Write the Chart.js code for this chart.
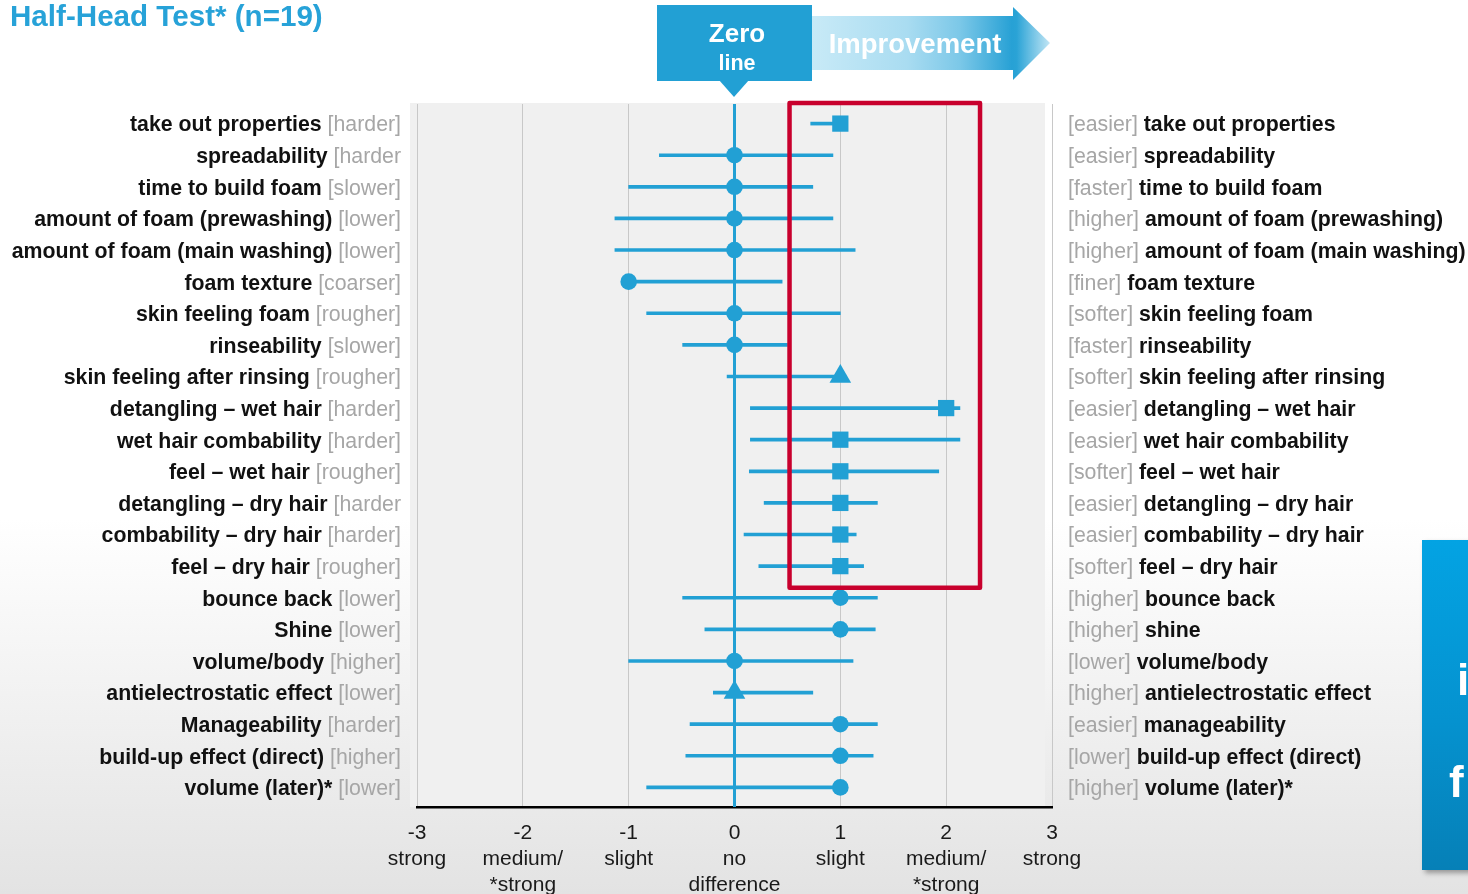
<!DOCTYPE html>
<html>
<head>
<meta charset="utf-8">
<script src="https://cdn.jsdelivr.net/npm/chart.js@4.4.1/dist/chart.umd.min.js"></script>
<style>
  html, body { margin: 0; padding: 0; }
  body {
    width: 1468px; height: 894px; overflow: hidden; position: relative;
    background: linear-gradient(to bottom, #ffffff 0%, #ffffff 58%, #e3e3e3 100%);
    font-family: 'Liberation Sans', Arial, sans-serif;
  }
  #chart { position: absolute; left: 0; top: 0; }
  .title { position: absolute; left: 10px; top: -1px; font-size: 29.6px; font-weight: bold; color: #27a2d8; white-space: nowrap; }
  .zero { position: absolute; left: 657px; top: 5px; width: 155px; height: 76px; background: #22a0d4; color: #fff; text-align: center; font-weight: bold; }
  .zero .z1 { position: absolute; left: 5px; right: 0; top: 13px; font-size: 26px; line-height: 30px; }
  .zero .z2 { position: absolute; left: 5px; right: 0; top: 45px; font-size: 21.5px; line-height: 26px; }
  .pointer { position: absolute; left: 719px; top: 80px; width: 0; height: 0; border-left: 15px solid transparent; border-right: 15px solid transparent; border-top: 17px solid #22a0d4; }
  .arrow { position: absolute; left: 812px; top: 6px; }
  .arrowtxt { position: absolute; left: 812px; top: 28px; width: 206px; text-align: center; color: #fff; font-weight: bold; font-size: 27.5px; line-height: 32px; white-space: nowrap; }
  .sidebox { position: absolute; left: 1422px; top: 540px; width: 300px; height: 330px; background: linear-gradient(to bottom, #03a3e3 0%, #0592cf 55%, #0680b7 100%); box-shadow: 3px 3px 5px rgba(0,0,0,0.35); color: #fff; font-weight: bold; font-size: 44px; line-height: 44px; }
  .sidebox span { position: absolute; }
</style>
</head>
<body>
<canvas id="chart" width="1468" height="894"></canvas>
<div class="title">Half-Head Test* (n=19)</div>
<div class="zero"><div class="z1">Zero</div><div class="z2">line</div></div>
<div class="pointer"></div>
<svg class="arrow" width="240" height="76" viewBox="0 0 240 76">
  <defs>
    <linearGradient id="ag" x1="0" y1="0" x2="238" y2="0" gradientUnits="userSpaceOnUse">
      <stop offset="0" stop-color="#c8eaf7"/>
      <stop offset="0.40" stop-color="#a9dcf1"/>
      <stop offset="0.62" stop-color="#7cc8e8"/>
      <stop offset="0.84" stop-color="#27a1d5"/>
      <stop offset="0.86" stop-color="#2aa3d6"/>
      <stop offset="1" stop-color="#c2e6f5"/>
    </linearGradient>
  </defs>
  <polygon points="0,10 201,10 201,1 238,37 201,74 201,64 0,64" fill="url(#ag)"/>
</svg>
<div class="arrowtxt">Improvement</div>
<div class="sidebox"><span style="left:35px; top:118px;">i</span><span style="left:27px; top:220px;">f</span></div>

<script>
// ---- data ----
const leftNames = [
  'take out properties', 'spreadability', 'time to build foam', 'amount of foam (prewashing)',
  'amount of foam (main washing)', 'foam texture', 'skin feeling foam', 'rinseability',
  'skin feeling after rinsing', 'detangling \u2013 wet hair', 'wet hair combability', 'feel \u2013 wet hair',
  'detangling \u2013 dry hair', 'combability \u2013 dry hair', 'feel \u2013 dry hair', 'bounce back',
  'Shine', 'volume/body', 'antielectrostatic effect', 'Manageability', 'build-up effect (direct)', 'volume (later)*'
];
const leftHints = [
  '[harder]', '[harder', '[slower]', '[lower]', '[lower]', '[coarser]', '[rougher]', '[slower]',
  '[rougher]', '[harder]', '[harder]', '[rougher]', '[harder', '[harder]', '[rougher]', '[lower]',
  '[lower]', '[higher]', '[lower]', '[harder]', '[higher]', '[lower]'
];
const rightNames = [
  'take out properties', 'spreadability', 'time to build foam', 'amount of foam (prewashing)',
  'amount of foam (main washing)', 'foam texture', 'skin feeling foam', 'rinseability',
  'skin feeling after rinsing', 'detangling \u2013 wet hair', 'wet hair combability', 'feel \u2013 wet hair',
  'detangling \u2013 dry hair', 'combability \u2013 dry hair', 'feel \u2013 dry hair', 'bounce back',
  'shine', 'volume/body', 'antielectrostatic effect', 'manageability', 'build-up effect (direct)', 'volume (later)*'
];
const rightHints = [
  '[easier]', '[easier]', '[faster]', '[higher]', '[higher]', '[finer]', '[softer]', '[faster]',
  '[softer]', '[easier]', '[easier]', '[softer]', '[easier]', '[easier]', '[softer]', '[higher]',
  '[higher]', '[lower]', '[higher]', '[easier]', '[lower]', '[higher]'
];
const medians = [1, 0, 0, 0, 0, -1, 0, 0, 1, 2, 1, 1, 1, 1, 1, 1, 1, 0, 0, 1, 1, 1];
const lows  = [0.72, -0.71, -1.00, -1.13, -1.13, -1.00, -0.83, -0.49, -0.07, 0.15, 0.15, 0.14, 0.28, 0.09, 0.23, -0.49, -0.28, -1.00, -0.20, -0.42, -0.46, -0.83];
const highs = [1.00, 0.93, 0.74, 0.93, 1.14, 0.45, 1.00, 0.50, 1.00, 2.13, 2.13, 1.93, 1.35, 1.15, 1.22, 1.35, 1.33, 1.12, 0.74, 1.35, 1.31, 1.00];
const shapes = ['rect', 'circle', 'circle', 'circle', 'circle', 'circle', 'circle', 'circle', 'triangle',
  'rect', 'rect', 'rect', 'rect', 'rect', 'rect', 'circle', 'circle', 'circle', 'triangle', 'circle', 'circle', 'circle'];
const tickValues = [-3, -2, -1, 0, 1, 2, 3];
const tickLabels = [['-3', 'strong'], ['-2', 'medium/', '*strong'], ['-1', 'slight'], ['0', 'no', 'difference'],
  ['1', 'slight'], ['2', 'medium/', '*strong'], ['3', 'strong']];
const zeroLine = [0, 0];
const highlightRange = [0.52, 2.32];   // x-range of the red box
const highlightLastRow = 14.68;        // red box bottom (row units)

// ---- styles ----
const BLUE = '#22a0d4';
const FONT = "'Liberation Sans', Arial, sans-serif";
const markerRadius = { rect: 11.5, circle: 8.3, triangle: 12.5 };

const rowsIdx = leftNames.map((_, i) => i);

const backgroundPlugin = {
  id: 'plotBg',
  beforeDraw(chart) {
    const { ctx, chartArea } = chart;
    ctx.save();
    ctx.fillStyle = '#f0f0f0';
    ctx.fillRect(chartArea.left - 7, chartArea.top - 1, chartArea.right - chartArea.left, chartArea.bottom - chartArea.top + 1);
    ctx.restore();
  }
};

const redBoxPlugin = {
  id: 'redBox',
  afterDatasetsDraw(chart) {
    const { ctx, chartArea, scales } = chart;
    const x1 = scales.x.getPixelForValue(highlightRange[0]);
    const x2 = scales.x.getPixelForValue(highlightRange[1]);
    const y1 = chartArea.top - 1;
    const y2 = scales.y.getPixelForValue(highlightLastRow);
    ctx.save();
    ctx.strokeStyle = '#c8002d';
    ctx.lineWidth = 4.5;
    ctx.lineJoin = 'round';
    ctx.strokeRect(x1, y1, x2 - x1, y2 - y1);
    ctx.restore();
  }
};

const rowLabelPlugin = {
  id: 'rowLabels',
  afterDraw(chart) {
    const { ctx, scales } = chart;
    const size = 21.3;
    const bold = `bold ${size}px ${FONT}`;
    const reg = `${size}px ${FONT}`;
    ctx.save();
    ctx.textBaseline = 'middle';
    ctx.font = reg;
    const space = ctx.measureText(' ').width;
    rowsIdx.forEach(i => {
      const y = scales.y.getPixelForValue(i) + 2;
      const lx = 401;
      ctx.textAlign = 'right';
      ctx.font = reg;
      ctx.fillStyle = '#a6a6a6';
      ctx.fillText(leftHints[i], lx, y);
      const hw = ctx.measureText(leftHints[i]).width;
      ctx.font = bold;
      ctx.fillStyle = '#111';
      ctx.fillText(leftNames[i], lx - hw - space, y);
      const rx = 1068;
      ctx.textAlign = 'left';
      ctx.font = reg;
      ctx.fillStyle = '#a6a6a6';
      ctx.fillText(rightHints[i], rx, y);
      const rw = ctx.measureText(rightHints[i]).width;
      ctx.font = bold;
      ctx.fillStyle = '#111';
      ctx.fillText(rightNames[i], rx + rw + space, y);
    });
    ctx.restore();
  }
};

new Chart(document.getElementById('chart'), {
  type: 'bar',
  data: {
    datasets: [
      {
        type: 'scatter',
        label: 'median',
        data: rowsIdx.map(i => ({ x: medians[i], y: i })),
        pointStyle: ctx => shapes[ctx.dataIndex],
        pointRadius: ctx => markerRadius[shapes[ctx.dataIndex]],
        pointHoverRadius: ctx => markerRadius[shapes[ctx.dataIndex]],
        backgroundColor: BLUE,
        borderColor: BLUE,
        borderWidth: 0,
        order: 0,
        clip: false
      },
      {
        type: 'bar',
        label: 'range',
        indexAxis: 'y',
        data: rowsIdx.map(i => ({ x: [lows[i], highs[i]], y: i })),
        backgroundColor: BLUE,
        borderWidth: 0,
        barThickness: 3,
        order: 1
      },
      {
        type: 'line',
        label: 'zero',
        data: [{ x: zeroLine[0], y: -0.62 }, { x: zeroLine[1], y: 21.62 }],
        borderColor: BLUE,
        borderWidth: 3,
        pointRadius: 0,
        order: 2,
        clip: false
      }
    ]
  },
  options: {
    responsive: false,
    animation: false,
    devicePixelRatio: 1,
    layout: { padding: { left: 417, right: 416, top: 104, bottom: 0 } },
    plugins: { legend: { display: false }, tooltip: { enabled: false } },
    scales: {
      x: {
        type: 'linear',
        offset: false,
        min: -3, max: 3,
        afterBuildTicks(scale) { scale.ticks = tickValues.map(v => ({ value: v })); },
        afterFit(scale) { scale.height = 87; },
        grid: { color: '#c8c8c8', lineWidth: 1, drawTicks: false, offset: false },
        border: { display: true, color: '#000', width: 2.5 },
        ticks: {
          padding: 13,
          color: '#1a1a1a',
          font: { family: FONT, size: 21, lineHeight: 1.25 },
          callback: (v) => tickLabels[tickValues.indexOf(v)],
          maxRotation: 0, autoSkip: false
        }
      },
      y: {
        type: 'linear',
        offset: false,
        reverse: true,
        min: -0.62, max: 21.62,
        display: false,
        grid: { offset: false }
      }
    }
  },
  plugins: [backgroundPlugin, redBoxPlugin, rowLabelPlugin]
});
</script>
</body>
</html>
